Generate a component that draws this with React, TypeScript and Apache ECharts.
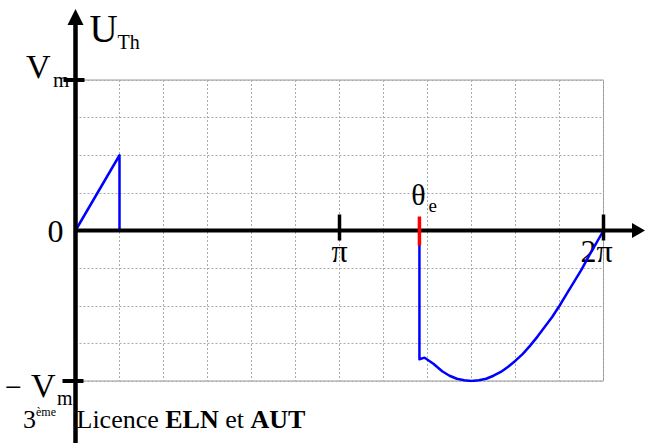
import React, { useEffect, useRef } from "react";
import * as echarts from "echarts";

// Thyristor voltage U_Th over one period (angle in degrees, value in units of Vm)
const thetaDeg = [
  0, 30, 30, 234.5, 234.5, 238, 244, 250, 255, 260, 265, 270, 275, 280, 285, 290,
  295, 300, 305, 310, 315, 320, 325, 330, 335, 340, 345, 350, 355, 360,
];
const uThValues = [
  0, 0.5, 0, 0, -0.855, -0.845, -0.885, -0.935, -0.965, -0.985, -0.995, -1, -0.995,
  -0.985, -0.965, -0.94, -0.905, -0.865, -0.82, -0.765, -0.705, -0.64, -0.575, -0.5,
  -0.42, -0.34, -0.26, -0.17, -0.085, 0,
];

const thetaE = 234.5;
const piDeg = 180;
const twoPiDeg = 360;
const vm = 1;

const SERIF = '"Liberation Serif", "Times New Roman", serif';
const f = (size: number, weight = "normal") => `${weight} ${size}px ${SERIF}`;

export default function App() {
  const ref = useRef<HTMLDivElement>(null);

  useEffect(() => {
    const chart = echarts.init(ref.current!, null, { renderer: "svg" });
    const dotted = { color: "#aaa", type: [2, 2], width: 1 };
    chart.setOption({
      animation: false,
      backgroundColor: "#fff",
      grid: {
        left: 75.5,
        top: 80,
        width: 528,
        height: 301,
        show: true,
        borderColor: "#999",
        borderWidth: 1,
      },
      xAxis: {
        type: "value",
        min: 0,
        max: 360,
        interval: 30,
        axisLine: { show: false },
        axisTick: { show: false },
        axisLabel: { show: false },
        splitLine: { show: true, lineStyle: dotted },
      },
      yAxis: {
        type: "value",
        min: -1,
        max: 1,
        interval: 0.25,
        axisLine: { show: false },
        axisTick: { show: false },
        axisLabel: { show: false },
        splitLine: { show: true, lineStyle: dotted },
      },
      series: [
        {
          type: "line",
          data: thetaDeg.map((t, i) => [t, uThValues[i]]),
          showSymbol: false,
          z: 3,
          lineStyle: { color: "#0000ff", width: 2.5, join: "round", cap: "round" },
        },
      ],
    });

    const px = (x: number, y: number) =>
      chart.convertToPixel({ gridIndex: 0 }, [x, y]) as number[];
    const [ox, oy] = px(0, 0);
    const yTop = px(0, vm)[1];
    const yBot = px(0, -vm)[1];
    const xPi = px(piDeg, 0)[0];
    const x2Pi = px(twoPiDeg, 0)[0];
    const xE = px(thetaE, 0)[0];

    const black = { stroke: "#000", lineWidth: 4.5 };
    const line = (x1: number, y1: number, x2: number, y2: number, style: any = black) => ({
      type: "line",
      z: 10,
      shape: { x1, y1, x2, y2 },
      style,
    });
    // text placed by its alphabetic baseline
    const txt = (
      text: string,
      x: number,
      baseline: number,
      size: number,
      align: string = "left",
      weight: string = "normal",
      z = 1
    ) => ({
      type: "text",
      z,
      x,
      y: baseline - size * 0.34,
      style: {
        text,
        fill: "#000",
        font: f(size, weight),
        textAlign: align,
        textVerticalAlign: "middle",
      },
    });

    chart.setOption({
      graphic: [
        // vertical axis with arrow
        line(ox, 22, ox, 443),
        { type: "polygon", z: 10, shape: { points: [[ox, 9], [ox - 8, 25], [ox + 8, 25]] }, style: { fill: "#000" } },
        // horizontal axis with arrow
        line(ox, oy, 634, oy, { stroke: "#000", lineWidth: 4 }),
        { type: "polygon", z: 10, shape: { points: [[645, oy], [632, oy - 7.5], [632, oy + 7.5]] }, style: { fill: "#000" } },
        // ticks at ±Vm
        line(ox - 12, yTop, ox + 9, yTop, { stroke: "#000", lineWidth: 4 }),
        line(ox - 13, yBot, ox + 8, yBot, { stroke: "#000", lineWidth: 4 }),
        // ticks at π and 2π
        line(xPi, oy - 16, xPi, oy + 10, { stroke: "#000", lineWidth: 3.5 }),
        line(x2Pi, oy - 16, x2Pi, oy + 10, { stroke: "#000", lineWidth: 3.5 }),
        // firing angle marker
        { ...line(xE, oy - 14, xE, oy + 15, { stroke: "#ff0000", lineWidth: 3.5 }), z: 11 },

        // axis labels
        txt("U", ox + 14, 42, 39),
        txt("Th", ox + 42, 49, 20),
        txt("V", 26, yTop - 2, 34),
        txt("m", 53, yTop + 7, 21),
        txt("0", ox - 12, oy + 11, 32, "right"),
        txt("π", xPi, 262, 32, "center"),
        txt("2π", x2Pi - 7, 262, 32, "center"),
        txt("θ", xE - 1, 205, 30, "center"),
        txt("e", xE + 9, 212, 19),
        txt("−", 5, yBot + 16, 30),
        txt("V", 31, yBot + 16, 34),
        txt("m", 57, yBot + 24, 20),

        // course caption
        txt("3", 23, 428, 26),
        txt("ème", 36, 416, 12),
        {
          type: "text",
          z: 1,
          x: ox + 1,
          y: 428 - 26 * 0.34,
          style: {
            text: "{n|Licence }{b|ELN}{n| et }{b|AUT}",
            textVerticalAlign: "middle",
            rich: {
              n: { font: f(26), fill: "#000" },
              b: { font: f(26, "bold"), fill: "#000" },
            },
          },
        },
      ],
    });

    return () => chart.dispose();
  }, []);

  return (
    <div
      ref={ref}
      style={{ position: "fixed", left: 0, top: 0, width: 645, height: 443, background: "#fff" }}
    />
  );
}
